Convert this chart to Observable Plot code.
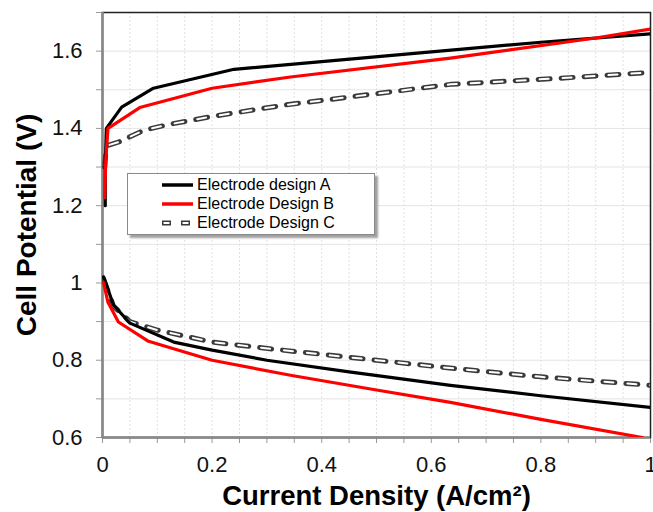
<!DOCTYPE html>
<html>
<head>
<meta charset="utf-8">
<script src="https://cdn.jsdelivr.net/npm/d3@7"></script>
<script src="https://cdn.jsdelivr.net/npm/@observablehq/plot@0.6"></script>
<style>
  body { margin: 0; background: #fff; font-family: "Liberation Sans", Arial, sans-serif; }
  #wrap { position: relative; width: 653px; height: 512px; }
  #legend { position: absolute; left: 127px; top: 173px; width: 246px; height: 60px;
            background: #fff; border: 1px solid #8a8a8a; box-shadow: 3px 3px 2px #a0a0a0; }
  #legend .row { position: absolute; left: 0; height: 19px; font-size: 16px; line-height: 19px; color: #000; white-space: nowrap; }
  #legend svg { position: absolute; left: 34px; top: 0; }
  #legend span { position: absolute; left: 69px; top: 0; }
</style>
</head>
<body>
<div id="wrap"></div>
<script>
// ---- data ----
const seriesNames = ["Electrode design A", "Electrode Design B", "Electrode Design C"];

const aUpX = [0.005, 0.005, 0.007, 0.035, 0.093, 0.24, 0.4, 0.6, 0.8, 1];
const aUpY = [1.2, 1.3, 1.4, 1.455, 1.504, 1.553, 1.573, 1.598, 1.623, 1.645];
const aLoX = [0.002, 0.02, 0.05, 0.13, 0.2, 0.3, 0.45, 0.635, 0.8, 1];
const aLoY = [1.016, 0.943, 0.896, 0.847, 0.826, 0.8, 0.77, 0.735, 0.708, 0.678];

const bUpX = [0.004, 0.006, 0.01, 0.068, 0.2, 0.343, 0.635, 0.9, 1];
const bUpY = [1.22, 1.32, 1.40, 1.454, 1.504, 1.533, 1.582, 1.634, 1.657];
const bLoX = [0.002, 0.01, 0.029, 0.084, 0.2, 0.343, 0.5, 0.635, 0.8, 0.985];
const bLoY = [1.0, 0.95, 0.899, 0.849, 0.8, 0.761, 0.723, 0.691, 0.647, 0.6];

const cUpX = [0.004, 0.007, 0.03, 0.075, 0.12, 0.2, 0.33, 0.5, 0.635, 0.836, 1];
const cUpY = [1.3, 1.355, 1.365, 1.395, 1.41, 1.431, 1.46, 1.49, 1.514, 1.53, 1.545];
const cLoX = [0.002, 0.02, 0.05, 0.1, 0.2, 0.31, 0.5, 0.653, 0.8, 1];
const cLoY = [1.01, 0.94, 0.9, 0.878, 0.847, 0.829, 0.8, 0.777, 0.757, 0.735];

const xTickLabels = [0, 0.2, 0.4, 0.6, 0.8, 1];
const yTickLabels = [0.6, 0.8, 1, 1.2, 1.4, 1.6];
const xMinorTicks = d3.range(0, 21).map(i => i * 0.05);
const yMinorTicks = d3.range(6, 18).map(i => i / 10);

const xLabel = "Current Density (A/cm²)";
const yLabel = "Cell Potential (V)";

// ---- build rows ----
function rows(name, branch, xs, ys) {
  return xs.map((x, i) => ({ series: name, branch, key: name + branch, x, y: ys[i] }));
}
const dataA = [...rows(seriesNames[0], "up", aUpX, aUpY), ...rows(seriesNames[0], "lo", aLoX, aLoY)];
const dataB = [...rows(seriesNames[1], "up", bUpX, bUpY), ...rows(seriesNames[1], "lo", bLoX, bLoY)];
const dataC = [...rows(seriesNames[2], "up", cUpX, cUpY), ...rows(seriesNames[2], "lo", cLoX, cLoY)];

const fmt = d3.format("~g");

const chart = Plot.plot({
  width: 653,
  height: 512,
  marginLeft: 102,
  marginRight: 3,
  marginTop: 12,
  marginBottom: 75,
  style: { fontFamily: "'Liberation Sans', Arial, sans-serif", background: "#fff", overflow: "visible" },
  x: { domain: [0, 1] },
  y: { domain: [0.6, 1.7] },
  marks: [
    // grid
    Plot.ruleY(yMinorTicks.filter(d => d > 0.6), { stroke: "#e4e4e4", strokeWidth: 1 }),
    Plot.ruleX(xMinorTicks.filter(d => d > 0 && d < 1), { stroke: "#e0e0e0", strokeWidth: 1, strokeDasharray: "2,2" }),
    // minor ticks (no labels)
    Plot.axisX({ ticks: xMinorTicks, tickSize: 6, tickFormat: () => "", stroke: "#999", label: null }),
    Plot.axisY({ ticks: yMinorTicks, tickSize: 6, tickFormat: () => "", stroke: "#999", label: null }),
    // labels
    Plot.axisX({ ticks: xTickLabels, tickSize: 0, tickPadding: 19, tickFormat: fmt, fontSize: 22, fill: "#111", label: null }),
    Plot.axisY({ ticks: yTickLabels, tickSize: 0, tickPadding: 20, tickFormat: fmt, fontSize: 22, fill: "#111", label: null }),
    // frame
    Plot.frame({ stroke: "#222", strokeWidth: 1.5 }),
    Plot.ruleX([0], { stroke: "#888", strokeWidth: 2.5 }),
    Plot.ruleY([0.6], { stroke: "#888", strokeWidth: 2.5 }),
    // series C dashed (outlined)
    Plot.line(dataC, { x: "x", y: "y", z: "key", stroke: "#3a3a3a", strokeWidth: 5, strokeDasharray: "12,11", clip: true }),
    Plot.line(dataC, { x: "x", y: "y", z: "key", stroke: "#fff", strokeWidth: 2, strokeDasharray: "9,14", strokeDashoffset: -1.5, clip: true }),
    // series A
    Plot.line(dataA, { x: "x", y: "y", z: "key", stroke: "#000", strokeWidth: 3.2, clip: true }),
    // series B
    Plot.line(dataB, { x: "x", y: "y", z: "key", stroke: "#ff0000", strokeWidth: 3.2, clip: true }),
    // axis titles
    Plot.text([xLabel], { frameAnchor: "bottom", dy: 67, lineAnchor: "bottom", textAnchor: "middle", fontSize: 27.5, fontWeight: "bold", fill: "#000", text: d => d }),
    Plot.text([yLabel], { frameAnchor: "left", dx: -75, rotate: -90, textAnchor: "middle", lineAnchor: "middle", fontSize: 28, fontWeight: "bold", fill: "#000", text: d => d })
  ]
});

const wrap = document.getElementById("wrap");
wrap.appendChild(chart);

// legend
const legend = document.createElement("div");
legend.id = "legend";
const samples = [
  '<svg width="32" height="19"><line x1="0" y1="10" x2="31" y2="10" stroke="#000" stroke-width="3.5"/></svg>',
  '<svg width="32" height="19"><line x1="0" y1="10" x2="31" y2="10" stroke="#ff0000" stroke-width="3.5"/></svg>',
  '<svg width="32" height="19"><line x1="0" y1="10" x2="31" y2="10" stroke="#3a3a3a" stroke-width="5" stroke-dasharray="9,10"/><line x1="0" y1="10" x2="31" y2="10" stroke="#fff" stroke-width="2" stroke-dasharray="6,13" stroke-dashoffset="-1.5"/></svg>'
];
seriesNames.forEach((name, i) => {
  const row = document.createElement("div");
  row.className = "row";
  row.style.top = (1 + i * 19) + "px";
  row.innerHTML = samples[i] + "<span>" + name + "</span>";
  legend.appendChild(row);
});
wrap.appendChild(legend);
</script>
</body>
</html>
